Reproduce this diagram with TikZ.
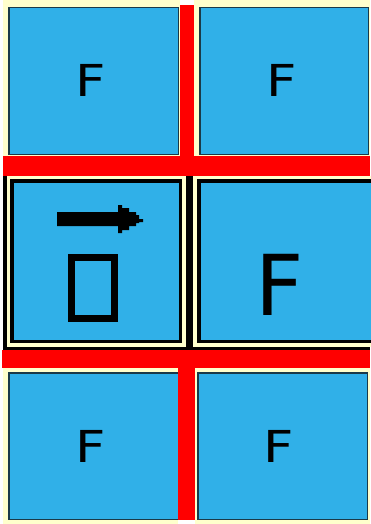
\documentclass[tikz,border=0pt]{standalone}
\usepackage{fontspec}
\newfontfamily\glyphfont{DejaVu Sans}
\usetikzlibrary{positioning}
\definecolor{cblue}{HTML}{30B0E8}
\definecolor{cyellow}{HTML}{FFFFCC}
\definecolor{cred}{HTML}{FF0000}
\definecolor{cedge}{HTML}{1A3A48}
\tikzset{
  every picture/.style={x=1pt, y=-1pt},
  cell/.style={fill=cblue, draw=cedge, line width=1.5pt},
  framed/.style={fill=cblue, draw=black, line width=3.5pt},
  back/.style={fill=cyellow},
  bar/.style={fill=cred},
  letter/.style={inner sep=0pt, anchor=base, font=\glyphfont\fontsize{44}{44}\selectfont},
  bigletter/.style={inner sep=0pt, anchor=base, font=\glyphfont\fontsize{84}{84}\selectfont},
}
\newcommand{\wideF}{\scalebox{1.2}[1]{F}}

\begin{document}
\begin{tikzpicture}
  \useasboundingbox (0,0) rectangle (370,524);
  \fill[white] (0,0) rectangle (370,524);
  % yellow backing
  \fill[back] (3,0) rectangle (180,157);
  \fill[back] (194,0) rectangle (370,157);
  \fill[back] (3,368) rectangle (178,524);
  \fill[back] (195,368) rectangle (370,524);
  % middle row frame
  \fill[black] (3,176) rectangle (370,350);
  \fill[back] (7,176) rectangle (186,347);
  \fill[back] (193,176) rectangle (372,347);
  % cells
  \draw[cell] (8.75,7.75) rectangle (178.25,154.25);
  \draw[cell] (199.75,7.75) rectangle (368.25,154.25);
  \draw[framed] (11.75,180.75) rectangle (180.25,341.25);
  \fill[cblue] (198.75,180.75) rectangle (372,341.25);
  \draw[framed, fill=none] (372,180.75) -| (198.75,341.25) -- (372,341.25);
  \draw[cell] (8.75,372.75) rectangle (178.25,519.25);
  \draw[cell] (197.75,372.75) rectangle (367.25,519.25);
  % red bars
  \fill[bar] (180,5) rectangle (194,157);
  \fill[bar] (3,156) rectangle (370,176);
  \fill[bar] (2,350) rectangle (370,368);
  \fill[bar] (178,368) rectangle (195,520);
  % letters
  \node[letter] (ftl) at (90.5,97) {\wideF};
  \node[letter] (ftr) at (281.5,97) {\wideF};
  \node[letter] (fbl) at (90.5,462) {\wideF};
  \node[letter] (fbr) at (279,462) {\wideF};
  \node[bigletter] (fmid) at (280,315) {F};
  % arrow and empty box
  \fill[black] (57,212) -- (118,212) -- (118,205) -- (122,205) -- (122,208) -- (129,208)
    -- (129,212) -- (136,212) -- (136,215) -- (139,215) -- (139,219) -- (143,219)
    -- (143,222) -- (139,222) -- (139,223) -- (136,223) -- (136,226) -- (129,226)
    -- (129,230) -- (122,230) -- (122,233) -- (118,233) -- (118,226) -- (57,226) -- cycle;
  \draw[black, line width=7pt] (71.5,257.5) rectangle (114.5,318.5);
\end{tikzpicture}
\end{document}
